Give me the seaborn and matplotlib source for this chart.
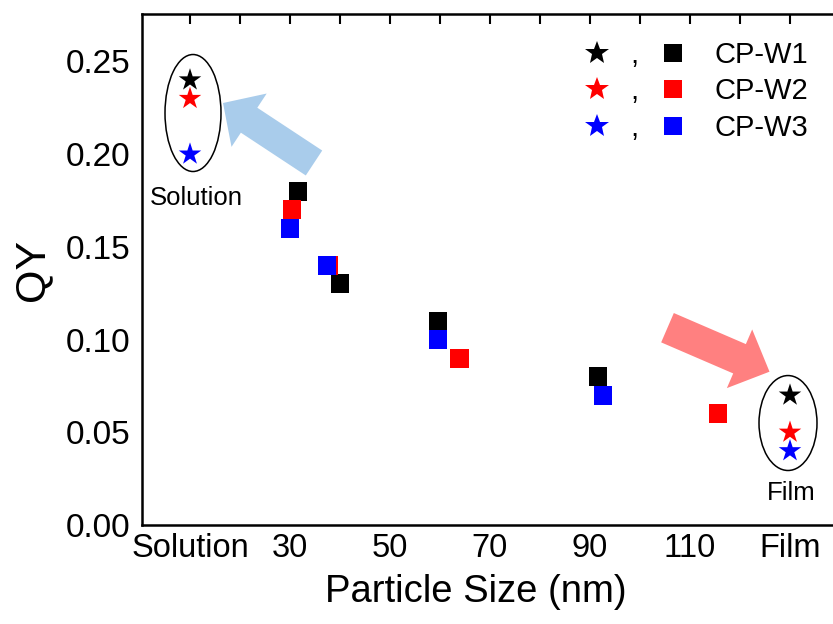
import numpy as np
import pandas as pd
import matplotlib
matplotlib.use("Agg")
import matplotlib.pyplot as plt
from matplotlib.patches import Ellipse
from matplotlib.lines import Line2D
import seaborn as sns

# ---------------- data ----------------
series = ["CP-W1", "CP-W2", "CP-W3"]
colors = ["#000000", "#FF0000", "#0000FF"]

# stars: Solution (x=10) and Film (x=130)
star_x = [10, 130]
star_qy_w1 = [0.24, 0.07]
star_qy_w2 = [0.23, 0.05]
star_qy_w3 = [0.20, 0.04]

# squares: particle size (nm) vs QY
sq_size_w1 = [31.6, 40.0, 59.6, 91.6]
sq_qy_w1 = [0.18, 0.13, 0.11, 0.08]
sq_size_w2 = [30.4, 37.7, 63.9, 115.6]
sq_qy_w2 = [0.17, 0.14, 0.09, 0.06]
sq_size_w3 = [30.0, 37.4, 59.6, 92.6]
sq_qy_w3 = [0.16, 0.14, 0.10, 0.07]

xtick_pos = [10, 20, 30, 40, 50, 60, 70, 80, 90, 100, 110, 120, 130]
xtick_labels = ["Solution", "", "30", "", "50", "", "70", "", "90", "", "110", "", "Film"]
ytick_pos = [0.00, 0.05, 0.10, 0.15, 0.20, 0.25]

# ---------------- frames ----------------
stars = pd.DataFrame({
    "x": star_x * 3,
    "qy": star_qy_w1 + star_qy_w2 + star_qy_w3,
    "series": [s for s in series for _ in star_x],
})
squares = pd.DataFrame({
    "x": sq_size_w1 + sq_size_w2 + sq_size_w3,
    "qy": sq_qy_w1 + sq_qy_w2 + sq_qy_w3,
    "series": ["CP-W1"] * len(sq_size_w1) + ["CP-W2"] * len(sq_size_w2) + ["CP-W3"] * len(sq_size_w3),
})
palette = dict(zip(series, colors))

sns.set_style("white")
plt.rcParams["font.family"] = ["Liberation Sans", "DejaVu Sans"]
for k in ["text.color", "axes.labelcolor", "xtick.color", "ytick.color", "axes.edgecolor"]:
    plt.rcParams[k] = "black"

W, H = 833, 624
fig = plt.figure(figsize=(W / 100, H / 100), dpi=100)
ax = fig.add_axes([141.5 / W, (H - 525) / H, 700 / W, (525 - 14) / H])

sns.scatterplot(data=squares, x="x", y="qy", hue="series", palette=palette,
                marker="s", s=187, linewidth=0, legend=False, ax=ax, zorder=3)
sns.scatterplot(data=stars, x="x", y="qy", hue="series", palette=palette,
                marker="*", s=290, linewidth=0, legend=False, ax=ax, zorder=4)

ax.set_xlim(0.3, 140.3)
ax.set_ylim(0, 0.2756)

# ellipses around stars
ax.add_patch(Ellipse((10.6, 0.2222), 11.2, 0.0631, fill=False, ec="black", lw=1.1, zorder=5))
ax.add_patch(Ellipse((129.6, 0.0550), 11.6, 0.0512, fill=False, ec="black", lw=1.1, zorder=5))

ax.text(11.2, 0.1765, "Solution", fontsize=18.5, ha="center", va="center")
ax.text(130.3, 0.0175, "Film", fontsize=18.5, ha="center", va="center")

# arrows (figure pixel coords)
ax.annotate("", xy=(223, H - 103), xytext=(314, H - 163), xycoords="figure pixels",
            textcoords="figure pixels",
            arrowprops=dict(arrowstyle="simple,head_length=22.5,head_width=46,tail_width=21.5",
                            mutation_scale=1, color="#A9CCEB", lw=0, shrinkA=0, shrinkB=0))
ax.annotate("", xy=(769.5, H - 371.7), xytext=(667.5, H - 327.7), xycoords="figure pixels",
            textcoords="figure pixels",
            arrowprops=dict(arrowstyle="simple,head_length=23.5,head_width=46,tail_width=23",
                            mutation_scale=1, color="#FF8080", lw=0, shrinkA=0, shrinkB=0))

# axes styling
for s in ax.spines.values():
    s.set_linewidth(1.8)
    s.set_color("black")
ax.set_xticks(xtick_pos)
ax.set_xticklabels(xtick_labels)
ax.set_yticks(ytick_pos)
ax.set_yticklabels([f"{v:.2f}" for v in ytick_pos])
ax.set_yticks(np.arange(0.025, 0.27, 0.05), minor=True)
ax.tick_params(axis="both", which="major", direction="in", length=7, width=1.5,
               top=True, right=False)
ax.tick_params(axis="x", which="major", labelsize=23.5, pad=6)
ax.tick_params(axis="y", which="major", labelsize=24, pad=8)
ax.tick_params(axis="both", which="minor", direction="in", length=3.5, width=1.5,
               top=True, right=False)
ax.set_xlabel("Particle Size (nm)", fontsize=27.5)
ax.set_ylabel("QY", fontsize=31)
ax.xaxis.set_label_coords((476 - 141.5) / 700, -0.096)
ax.yaxis.set_label_coords(-0.128, 0.5)

# legends: stars with comma, squares with names
star_handles = [Line2D([], [], ls="none", marker="*", ms=18, color=c, mew=0) for c in colors]
sq_handles = [Line2D([], [], ls="none", marker="s", ms=13, color=c, mew=0) for c in colors]
fs = 21
leg1 = ax.legend(star_handles, [",", ",", ","], loc="upper left", frameon=False, fontsize=fs,
                 handlelength=1.0, handletextpad=0.66, borderpad=0, borderaxespad=0,
                 labelspacing=0.29, bbox_to_anchor=(582.4 / W, (H - 41) / H),
                 bbox_transform=fig.transFigure)
ax.add_artist(leg1)
ax.legend(sq_handles, series, loc="upper left", frameon=False, fontsize=fs,
          handlelength=1.0, handletextpad=0.94, borderpad=0, borderaxespad=0,
          labelspacing=0.29, bbox_to_anchor=(658.4 / W, (H - 41) / H),
          bbox_transform=fig.transFigure)

fig.savefig("out.png", dpi=100)
